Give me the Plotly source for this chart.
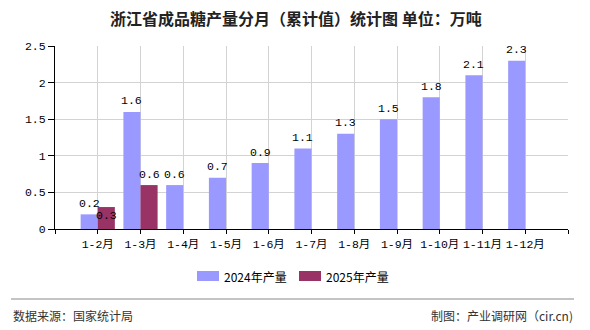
import plotly.graph_objects as go

# Monthly cumulative sugar output, Zhejiang (10k tonnes)
categories = ["1-2月", "1-3月", "1-4月", "1-5月", "1-6月", "1-7月",
              "1-8月", "1-9月", "1-10月", "1-11月", "1-12月"]
values_2024 = [0.2, 1.6, 0.6, 0.7, 0.9, 1.1, 1.3, 1.5, 1.8, 2.1, 2.3]
values_2025 = [0.3, 0.6]
series_names = ["2024年产量", "2025年产量"]
y_ticks = [0, 0.5, 1, 1.5, 2, 2.5]

color_2024 = "#9999FF"
color_2025 = "#993366"
num_font = "Liberation Mono, Noto Sans CJK SC, monospace"
cjk_font = "Noto Sans CJK SC, sans-serif"

W, H = 590, 330
M_L, M_R, M_T, M_B = 55, 22, 46, 101
PW, PH = W - M_L - M_R, H - M_T - M_B


def px_x(px):
    """pixel x -> paper x (plot-area relative)"""
    return (px - M_L) / PW


def px_y(py):
    """pixel y (from top) -> paper y (plot-area relative)"""
    return (H - M_B - py) / PH


x_pos = list(range(1, len(categories) + 1))

fig = go.Figure()
fig.add_trace(go.Bar(x=x_pos, y=values_2024, name=series_names[0],
                     marker=dict(color=color_2024, line=dict(width=0))))
fig.add_trace(go.Bar(x=x_pos[:len(values_2025)], y=values_2025, name=series_names[1],
                     marker=dict(color=color_2025, line=dict(width=0))))

# value labels above each bar
annotations = []
for xi, v in zip(x_pos, values_2024):
    annotations.append(dict(x=xi - 0.2, y=v, xref="x", yref="y", text=str(v),
                            showarrow=False, yshift=11, yanchor="middle",
                            font=dict(family=num_font, size=11.5, color="#000")))
label_shift_2025 = [-8, 11]
for xi, v, s in zip(x_pos, values_2025, label_shift_2025):
    annotations.append(dict(x=xi + 0.2, y=v, xref="x", yref="y", text=str(v),
                            showarrow=False, yshift=s, yanchor="middle",
                            font=dict(family=num_font, size=11.5, color="#000")))

# title
annotations.append(dict(x=px_x(296), y=px_y(18), xref="paper", yref="paper",
                        text="<b>浙江省成品糖产量分月（累计值）统计图 单位：万吨</b>",
                        showarrow=False, xanchor="center", yanchor="middle",
                        font=dict(family=cjk_font, size=16, color="#222")))

# footer
annotations.append(dict(x=px_x(11), y=px_y(315), xref="paper", yref="paper",
                        text="数据来源：国家统计局", showarrow=False,
                        xanchor="left", yanchor="middle",
                        font=dict(family=cjk_font, size=12, color="#333")))
annotations.append(dict(x=px_x(575), y=px_y(315), xref="paper", yref="paper",
                        text="制图：产业调研网（cir.cn)", showarrow=False,
                        xanchor="right", yanchor="middle",
                        font=dict(family=cjk_font, size=12, color="#333")))

# legend drawn as swatches + labels
shapes = [dict(type="line", xref="paper", yref="paper",
               x0=px_x(11), x1=px_x(574), y0=px_y(299), y1=px_y(299),
               line=dict(color="#888", width=1))]
legend_items = [(series_names[0], color_2024, 197), (series_names[1], color_2025, 299)]
for name, col, lx in legend_items:
    shapes.append(dict(type="rect", xref="paper", yref="paper",
                       x0=px_x(lx), x1=px_x(lx + 22),
                       y0=px_y(281), y1=px_y(271),
                       fillcolor=col, line=dict(width=0)))
    annotations.append(dict(x=px_x(lx + 25), y=px_y(276), xref="paper", yref="paper",
                            text=name, showarrow=False, xanchor="left", yanchor="middle",
                            font=dict(family=cjk_font, size=12, color="#000")))

fig.update_layout(
    width=W, height=H,
    margin=dict(l=M_L, r=M_R, t=M_T, b=M_B),
    paper_bgcolor="white", plot_bgcolor="white",
    barmode="group", bargap=0.2, bargroupgap=0,
    showlegend=False,
    annotations=annotations, shapes=shapes,
    xaxis=dict(range=[0, len(categories) + 1],
               tickvals=list(range(0, len(categories) + 2)),
               ticktext=[""] + categories + [""],
               showgrid=True, gridcolor="#d3d3d3", gridwidth=1,
               showline=True, linecolor="#000", linewidth=1,
               ticks="outside", ticklen=4, tickcolor="#000",
               tickfont=dict(family=num_font, size=11.5, color="#000"),
               zeroline=False, fixedrange=True),
    yaxis=dict(range=[0, 2.5], tickvals=y_ticks,
               ticktext=[f"{t:g}" for t in y_ticks],
               showgrid=True, gridcolor="#d3d3d3", gridwidth=1,
               showline=True, linecolor="#000", linewidth=1,
               ticks="outside", ticklen=6, tickcolor="#000",
               tickfont=dict(family=num_font, size=11.5, color="#000"),
               zeroline=False, fixedrange=True),
)

fig.write_html("out.html")
